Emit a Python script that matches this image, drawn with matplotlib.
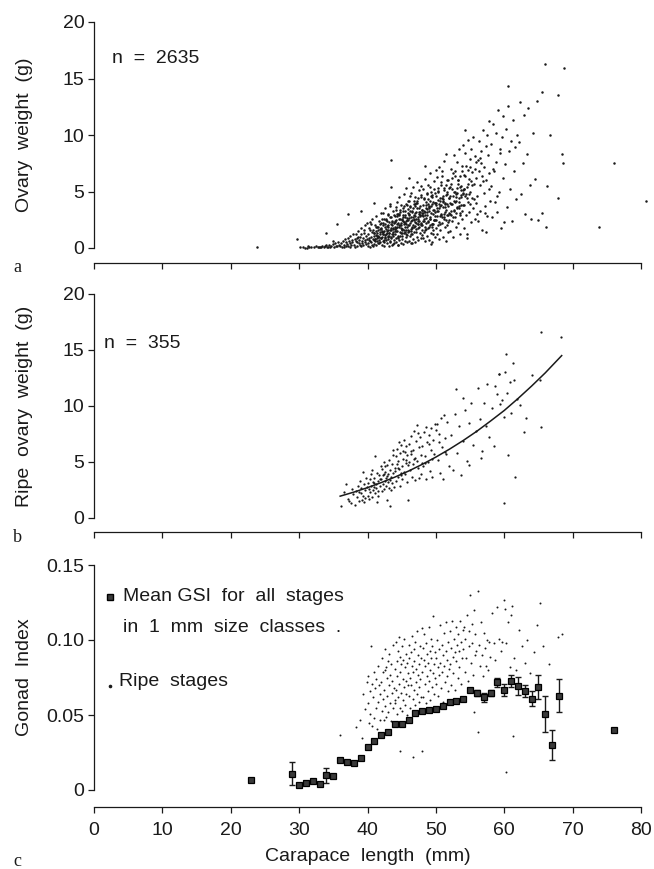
import matplotlib
matplotlib.use("Agg")
import matplotlib.pyplot as plt

plt.rcParams['font.family'] = ['Liberation Sans', 'DejaVu Sans']

# ---------------- Panel a: ovary weight vs carapace length (all stages) ----------------
ovary_cl = [
    30.1,30.6,30.9,31.3,31.5,31.8,32.2,32.4,32.7,32.9,33.0,31.1,
    33.2,33.4,33.6,33.8,34.0,34.2,34.4,34.5,34.7,34.9,35.1,35.2,35.4,35.6,35.7,35.9,34.1,35.0,
    36.0,36.1,36.3,36.4,36.5,36.7,36.8,36.9,37.0,37.1,37.2,37.3,37.4,37.5,37.6,37.7,37.8,37.9,36.6,37.5,
    38.0,38.1,38.2,38.3,38.4,38.5,38.6,38.7,38.8,38.9,39.0,39.1,39.2,39.3,39.4,39.5,39.6,39.7,39.8,39.9,
    38.25,38.55,38.85,39.15,39.45,39.75,38.45,39.05,39.65,39.95,
    40.0,40.05,40.1,40.2,40.25,40.3,40.4,40.45,40.5,40.6,40.65,40.7,40.8,40.85,40.9,41.0,41.05,41.1,41.2,41.25,
    41.3,41.4,41.45,41.5,41.6,41.65,41.7,41.8,41.85,41.9,40.15,40.35,40.55,40.75,40.95,41.15,41.35,41.55,41.75,41.95,
    40.42,40.88,41.22,41.58,41.92,
    42.0,42.03,42.1,42.15,42.2,42.25,42.3,42.38,42.42,42.5,42.55,42.6,42.68,42.72,42.8,42.85,42.9,42.97,43.0,43.05,
    43.1,43.17,43.2,43.28,43.32,43.4,43.45,43.5,43.57,43.62,43.7,43.75,43.8,43.88,43.92,43.98,42.07,42.33,42.47,42.63,
    42.77,42.93,43.07,43.23,43.37,43.53,43.67,43.83,43.95,42.12,42.58,42.82,43.13,43.42,43.78,42.45,43.02,43.6,42.22,43.3,
    44.0,44.04,44.1,44.13,44.18,44.22,44.27,44.3,44.36,44.4,44.45,44.5,44.53,44.58,44.62,44.68,44.7,44.75,44.8,44.84,
    44.9,44.93,44.98,45.0,45.05,45.1,45.13,45.18,45.22,45.28,45.3,45.35,45.4,45.44,45.5,45.53,45.58,45.62,45.67,45.7,
    45.75,45.8,45.84,45.9,45.94,45.98,44.07,44.33,44.55,44.78,44.95,45.15,45.38,45.6,45.82,44.24,44.48,44.72,45.08,45.26,
    45.48,45.72,45.92,44.15,44.65,45.02,45.42,45.88,44.42,45.56,
    46.0,46.05,46.08,46.13,46.17,46.22,46.28,46.3,46.35,46.4,46.44,46.5,46.53,46.57,46.63,46.68,46.7,46.76,46.8,46.85,
    46.88,46.94,46.98,47.02,47.05,47.1,47.15,47.2,47.24,47.28,47.33,47.38,47.42,47.47,47.5,47.55,47.6,47.64,47.68,47.73,
    47.78,47.82,47.86,47.9,47.94,47.98,46.03,46.25,46.47,46.73,46.92,47.12,47.36,47.58,47.8,46.15,46.38,46.6,46.83,47.0,
    47.22,47.45,47.66,47.92,46.1,46.55,46.96,47.4,47.84,46.42,
    48.0,48.05,48.1,48.14,48.2,48.25,48.3,48.34,48.4,48.44,48.5,48.55,48.58,48.63,48.7,48.74,48.8,48.84,48.9,48.95,
    49.0,49.04,49.1,49.15,49.2,49.24,49.3,49.35,49.4,49.45,49.5,49.54,49.6,49.66,49.7,49.75,49.8,49.85,49.9,49.95,
    48.08,48.32,48.52,48.78,48.98,49.18,49.42,49.62,49.88,48.18,48.45,48.68,48.92,49.12,49.38,49.58,49.82,48.27,48.6,49.07,
    49.5,49.92,48.38,49.28,49.72,
    50.0,50.06,50.1,50.17,50.22,50.28,50.33,50.4,50.45,50.5,50.56,50.62,50.67,50.72,50.78,50.84,50.9,50.95,51.0,51.06,
    51.12,51.17,51.22,51.28,51.33,51.4,51.45,51.5,51.56,51.62,51.67,51.73,51.78,51.84,51.9,51.95,50.14,50.37,50.58,50.81,
    51.03,51.25,51.48,51.7,51.92,50.25,50.52,50.75,51.09,51.36,51.6,51.87,50.03,50.88,51.53,
    52.0,52.07,52.13,52.2,52.26,52.33,52.4,52.46,52.52,52.6,52.66,52.73,52.8,52.86,52.93,53.0,53.07,53.13,53.2,53.27,
    53.33,53.4,53.46,53.53,53.6,53.66,53.73,53.8,53.87,53.93,52.1,52.37,52.63,52.9,53.17,53.43,53.7,53.97,52.23,52.55,
    52.83,53.1,53.37,53.63,53.9,
    54.0,54.08,54.15,54.22,54.3,54.37,54.45,54.52,54.6,54.67,54.75,54.82,54.9,54.97,55.05,55.12,55.2,55.27,55.35,55.42,
    55.5,55.57,55.65,55.72,55.8,55.87,55.95,54.12,54.4,54.7,54.95,55.25,55.55,55.82,54.27,54.58,55.1,55.68,
    56.0,56.1,56.2,56.3,56.4,56.5,56.6,56.7,56.8,56.9,57.0,57.1,57.2,57.3,57.4,57.5,57.6,57.7,57.8,57.9,
    56.25,56.55,56.85,57.15,57.45,57.75,56.45,57.35,
    58.0,58.1,58.25,58.35,58.5,58.6,58.75,58.85,59.0,59.1,59.25,59.35,59.5,59.6,59.75,59.85,58.4,58.95,59.45,59.95,
    60.1,60.25,60.4,60.55,60.7,60.85,61.0,61.15,61.3,61.45,61.6,61.75,61.9,60.5,
    62.1,62.3,62.5,62.7,62.9,63.1,63.3,63.5,63.7,63.9,
    64.2,64.5,64.8,65.0,65.5,65.9,65.5,66.1,66.7,66.3,67.9,67.9,68.4,68.6,68.8,76.0,80.8,73.8,
    23.8,29.7,33.9,35.5,37.1,39.1,40.9,43.5,43.5,
    # dense core
    41.02,41.13,41.21,41.34,41.46,41.52,41.63,41.77,41.86,41.97,
    42.04,42.16,42.27,42.31,42.43,42.56,42.64,42.73,42.88,42.95,
    43.03,43.14,43.22,43.36,43.41,43.55,43.66,43.74,43.83,43.96,
    44.02,44.12,44.26,44.35,44.47,44.54,44.61,44.76,44.83,44.97,
    45.04,45.11,45.24,45.33,45.46,45.52,45.64,45.71,45.87,45.93,
    46.02,46.14,46.23,46.36,46.43,46.58,46.62,46.77,46.86,46.91,
    47.03,47.16,47.23,47.34,47.44,47.56,47.63,47.76,47.83,47.97,
    48.03,48.12,48.22,48.36,48.47,48.53,48.66,48.72,48.87,48.94,
    49.02,49.13,49.26,49.33,49.41,49.56,49.64,49.77,49.84,49.96,
    50.04,50.12,50.24,50.35,50.47,50.54,50.66,50.74,50.86,50.97,
    51.02,51.14,51.23,51.37,51.43,51.55,51.65,51.76,51.82,51.94,
    52.05,52.15,52.28,52.35,52.47,52.58,52.68,52.78,52.88,52.96,
    53.04,53.16,53.24,53.34,53.48,53.58,53.68,53.76,53.85,53.95,
    54.05,54.18,54.33,54.48,54.63,54.78,54.92,
]
ovary_wt = [
    0.05,0.1,0.02,0.15,0.05,0.1,0.08,0.2,0.05,0.12,0.1,0.0,
    0.1,0.2,0.05,0.15,0.3,0.1,0.25,0.05,0.2,0.35,0.1,0.4,0.2,0.15,0.5,0.3,0.12,0.6,
    0.2,0.4,0.1,0.6,0.3,0.8,0.15,0.5,0.35,0.9,0.2,0.6,1.1,0.4,0.25,0.7,0.5,1.2,0.05,0.1,
    0.3,0.8,0.1,1.2,0.5,0.2,1.5,0.7,0.4,1.0,0.15,1.8,0.6,0.9,0.3,1.3,2.0,0.5,1.1,0.8,
    0.6,1.0,0.25,0.45,1.6,0.35,0.9,1.2,0.7,2.2,
    0.4,1.2,0.2,1.8,0.7,0.1,2.3,1.0,0.5,1.4,0.3,2.6,0.8,1.6,0.35,1.1,2.0,0.6,1.5,0.25,
    2.8,0.9,1.3,0.45,1.9,0.7,2.4,1.2,0.55,1.7,0.9,0.6,2.1,0.2,1.35,0.8,1.85,1.05,0.4,2.2,
    1.55,0.75,1.15,0.95,3.1,
    0.9,1.8,0.3,2.6,1.2,0.6,3.1,1.5,0.2,2.1,1.0,3.5,0.7,1.7,2.4,0.4,1.3,2.9,0.8,1.9,
    0.15,2.3,1.1,3.7,0.5,1.6,2.7,0.95,2.0,1.25,0.35,3.3,1.45,2.2,0.75,1.85,1.4,2.0,0.55,1.15,
    2.5,1.6,3.0,0.65,1.75,2.35,1.05,0.45,2.8,1.5,0.85,1.95,1.35,2.15,1.65,2.55,1.0,0.25,1.2,3.9,
    1.2,2.4,0.5,3.4,1.8,0.9,2.8,4.1,1.5,0.3,2.2,3.0,1.0,1.9,4.5,0.7,2.6,1.4,3.2,0.45,
    2.0,3.8,1.1,2.5,0.8,1.7,3.5,2.9,0.35,1.3,2.3,4.8,1.6,0.6,2.7,3.3,1.25,2.1,0.95,3.9,
    1.85,2.45,0.55,1.45,3.1,2.0,1.65,2.15,2.95,1.05,1.75,2.35,3.7,1.55,2.65,3.6,0.85,2.05,1.35,2.75,
    1.9,1.15,4.2,2.5,3.05,1.6,2.25,3.45,0.25,5.3,
    1.5,3.0,0.6,4.2,2.2,1.1,3.6,2.7,0.4,4.9,1.8,2.5,3.3,1.2,5.4,2.0,0.8,3.9,2.9,1.4,
    4.5,2.3,0.55,3.1,1.7,4.0,2.6,5.8,1.0,3.5,2.1,0.7,4.4,3.0,1.9,2.4,5.1,1.3,3.7,2.8,
    0.9,4.7,2.2,3.4,1.6,2.9,2.65,3.25,1.85,2.45,3.85,1.45,2.75,3.15,2.05,4.6,1.25,3.55,2.55,1.95,
    4.15,2.35,3.2,1.15,6.2,0.45,3.75,2.15,5.5,1.65,
    2.0,3.8,0.9,5.2,2.6,1.4,4.4,3.2,0.6,6.1,2.2,3.5,1.7,4.8,2.9,1.1,5.6,3.9,2.4,0.75,
    3.3,1.9,6.6,4.2,2.7,1.3,3.7,5.0,2.1,0.5,4.5,3.0,1.6,5.9,2.5,3.4,1.0,4.0,2.8,6.9,
    3.1,2.35,4.1,1.8,3.6,2.55,4.7,2.15,3.15,2.85,1.55,3.45,4.35,2.05,3.85,1.25,4.9,3.3,2.65,5.4,
    1.85,3.95,7.3,0.35,2.45,
    2.5,4.6,1.2,6.3,3.3,2.0,5.3,0.8,3.9,7.2,2.8,4.2,1.6,5.8,3.0,2.2,6.8,4.4,1.0,3.6,
    5.1,2.6,7.7,1.9,4.0,3.2,5.6,0.65,2.9,4.8,6.0,2.3,3.7,1.4,5.3,3.1,3.5,4.25,2.15,3.8,
    4.6,2.75,3.35,4.95,2.45,5.05,3.55,2.95,4.15,3.85,2.05,4.45,1.75,6.4,8.3,
    3.0,5.4,1.5,7.0,3.9,2.4,6.2,4.6,1.0,8.2,3.4,5.0,2.7,6.8,4.2,1.9,7.6,3.6,5.7,2.2,
    8.8,4.4,3.1,6.4,1.2,5.1,3.8,7.3,2.6,4.8,4.0,5.2,3.3,4.5,6.0,3.7,5.5,4.9,2.9,6.6,
    4.1,5.3,3.5,4.7,9.1,
    3.8,6.5,1.8,8.4,4.6,2.9,7.3,5.4,1.2,9.6,4.1,6.1,3.2,7.9,5.0,2.3,8.8,4.4,6.7,3.5,
    9.8,5.7,2.6,7.0,4.0,6.2,3.0,5.2,4.8,6.9,3.9,5.6,4.3,7.6,10.4,0.9,5.9,8.1,
    4.6,7.8,2.4,9.5,5.6,3.3,8.6,6.4,1.6,10.4,4.9,7.2,3.7,9.0,6.0,2.8,8.2,5.2,11.2,4.2,
    6.8,7.5,5.9,3.1,10.0,6.6,8.0,1.4,
    5.5,9.2,2.7,11.0,6.8,4.1,10.2,7.6,3.2,12.2,5.0,8.4,1.8,9.8,6.2,11.7,7.0,4.6,8.8,2.3,
    7.4,10.5,3.6,12.6,8.6,5.2,9.5,2.4,11.3,6.8,8.9,4.3,10.0,14.3,
    9.4,12.9,4.8,7.5,11.8,3.0,8.3,12.4,5.6,2.6,
    10.2,6.1,13.0,2.5,13.8,16.3,3.1,1.9,10.0,5.5,13.5,4.4,8.3,7.5,15.9,7.5,4.2,1.9,
    0.1,0.8,1.3,2.1,3.0,3.3,4.0,7.8,5.4,
    # dense core
    1.3,0.8,1.9,1.1,0.6,1.6,1.0,2.1,1.4,0.9,
    1.7,1.0,2.2,1.4,0.7,1.9,1.2,2.6,1.5,1.1,
    2.0,1.3,2.7,1.6,0.9,2.3,1.8,1.2,2.9,1.5,
    2.3,1.5,3.0,1.9,1.1,2.6,2.0,3.4,1.3,2.2,
    2.6,1.7,3.3,2.1,1.4,2.9,2.4,3.8,1.6,2.5,
    2.9,2.0,3.7,2.4,1.5,3.2,2.7,4.2,1.9,2.8,
    3.2,2.2,4.0,2.6,1.8,3.5,2.9,4.5,2.1,3.1,
    3.4,2.4,4.3,2.9,1.9,3.8,3.2,4.9,2.3,3.5,
    3.7,2.6,4.6,3.1,2.1,4.1,3.4,5.2,2.5,3.8,
    4.0,2.8,5.0,3.3,2.3,4.4,3.7,5.6,2.7,4.1,
    4.3,3.0,5.3,3.6,2.5,4.7,3.9,6.0,2.9,4.4,
    4.6,3.3,5.7,3.9,2.7,5.0,4.2,6.4,3.1,4.8,
    4.9,3.5,6.0,4.1,2.9,5.4,4.5,6.8,3.3,5.1,
    5.2,3.8,6.4,4.4,5.7,4.8,7.2,
]

# ---------------- Panel b: ripe ovary weight ----------------
ripe_cl = [
    36.1,36.9,37.3,37.6,37.9,37.2,36.6,37.8,
    38.1,38.3,38.5,38.6,38.8,38.9,39.0,39.1,39.2,39.3,39.4,39.5,39.6,39.7,39.8,39.9,38.7,39.55,
    40.0,40.1,40.2,40.25,40.35,40.4,40.5,40.6,40.65,40.75,40.8,40.9,41.0,41.05,41.15,41.2,41.3,41.4,41.45,41.55,
    41.6,41.7,41.8,41.85,41.95,40.45,40.95,41.5,
    42.0,42.05,42.15,42.2,42.3,42.35,42.45,42.5,42.6,42.65,42.75,42.8,42.9,42.95,43.05,43.1,43.2,43.25,43.35,43.4,
    43.5,43.55,43.65,43.7,43.8,43.85,43.95,42.4,42.85,43.3,43.75,42.55,
    44.0,44.1,44.15,44.25,44.3,44.4,44.5,44.55,44.65,44.7,44.8,44.9,44.95,45.05,45.1,45.2,45.3,45.35,45.45,45.5,
    45.6,45.7,45.75,45.85,45.9,44.45,44.85,45.25,45.65,45.95,
    46.0,46.1,46.2,46.3,46.4,46.5,46.6,46.7,46.8,46.9,47.0,47.1,47.2,47.3,47.4,47.5,47.6,47.7,47.8,47.9,
    46.35,46.85,47.35,47.85,
    48.0,48.1,48.25,48.35,48.5,48.6,48.75,48.85,49.0,49.1,49.25,49.35,49.5,49.6,49.75,49.85,48.45,48.95,49.45,49.95,
    50.1,50.25,50.4,50.6,50.75,50.9,51.05,51.2,51.4,51.55,51.7,51.85,50.5,51.3,
    52.2,52.5,52.8,53.1,53.4,53.7,54.0,54.3,54.6,54.9,55.2,55.5,55.8,53.0,53.9,54.8,
    56.1,56.4,56.8,57.1,57.5,57.8,58.2,58.5,58.9,59.2,59.6,59.9,56.6,57.3,58.7,59.4,
    60.0,60.1,60.2,59.2,61.3,61.4,60.4,60.8,61.0,61.5,61.8,62.9,63.2,64.0,65.3,65.4,65.4,68.3,60.6,62.3,
]
ripe_wt = [
    1.1,3.0,1.5,1.3,2.1,1.7,2.3,2.6,
    1.2,2.4,1.9,2.9,1.5,3.3,2.2,2.7,1.6,4.1,2.0,3.0,2.5,1.8,3.6,2.8,2.3,1.4,
    2.0,3.1,2.6,1.7,3.5,2.3,2.9,4.3,1.9,3.2,2.5,2.8,3.6,2.2,5.5,3.0,2.7,4.0,1.4,3.3,
    2.4,3.8,2.9,3.5,4.6,3.9,3.1,2.0,
    3.5,2.4,4.4,3.0,3.8,2.6,5.0,3.3,4.1,2.9,3.6,1.6,4.7,3.2,3.9,2.7,5.2,3.4,4.3,2.5,
    3.7,4.8,3.1,5.6,4.0,2.8,4.5,3.95,3.75,1.1,6.1,4.6,
    4.2,5.5,3.3,4.8,6.2,3.7,5.1,4.4,6.8,2.9,5.8,4.0,6.5,4.6,3.5,5.3,7.0,4.1,5.9,3.9,
    4.9,6.4,3.2,5.6,4.7,4.5,3.8,6.0,5.2,1.6,
    5.0,6.6,4.3,7.3,5.7,3.7,6.1,4.8,7.8,5.4,3.4,6.9,5.1,8.3,4.5,6.3,3.6,7.2,5.6,4.9,
    6.0,5.3,7.6,3.9,
    6.4,4.6,7.7,5.5,8.1,3.5,6.8,5.0,7.4,4.2,8.0,6.1,3.7,7.0,5.7,8.4,4.9,6.6,5.3,7.9,
    8.4,5.2,7.5,4.0,8.9,6.3,3.5,9.2,7.1,5.7,8.6,4.6,6.8,5.9,
    7.4,4.3,9.3,5.8,8.2,3.8,6.9,9.6,5.1,8.5,10.3,6.5,7.8,11.5,10.7,4.7,
    11.6,8.8,6.0,10.3,12.0,7.2,9.8,6.4,11.1,12.9,10.5,9.0,5.4,8.2,11.8,10.2,
    1.3,13.0,14.6,12.9,13.8,12.3,11.2,12.1,9.4,3.7,10.6,7.7,8.9,12.8,12.3,8.1,16.6,16.2,5.6,10.1,
]

# fitted curve
fit_cl = [36, 38, 40, 42, 44, 46, 48, 50, 52, 54, 56, 58, 60, 62, 64, 66, 68.4]
fit_wt = [1.95, 2.31, 2.71, 3.16, 3.65, 4.19, 4.79, 5.44, 6.15, 6.92, 7.75, 8.66, 9.6, 10.66, 11.78, 12.96, 14.5]

# ---------------- Panel c: gonad index ----------------
mean_cl = [23, 29, 30, 31, 32, 33, 34, 35, 36, 37, 38, 39, 40, 41, 42, 43, 44, 45, 46, 47, 48, 49, 50,
           51, 52, 53, 54, 55, 56, 57, 58, 59, 60, 61, 62, 63, 64, 65, 66, 67, 68, 76]
mean_gsi = [0.007, 0.011, 0.0035, 0.005, 0.006, 0.004, 0.010, 0.0094, 0.020, 0.0185, 0.018, 0.0216,
            0.029, 0.0327, 0.0367, 0.039, 0.044, 0.044, 0.0468, 0.0512, 0.053, 0.0535, 0.054,
            0.0563, 0.0586, 0.0592, 0.061, 0.0668, 0.0646, 0.0617, 0.0646, 0.0717, 0.0668, 0.0724,
            0.0695, 0.0661, 0.0608, 0.0684, 0.0508, 0.030, 0.0628, 0.040]
mean_err = [0, 0.0075, 0, 0, 0, 0, 0.005, 0, 0, 0, 0, 0,
            0, 0, 0, 0, 0, 0, 0, 0, 0, 0, 0,
            0, 0, 0, 0, 0, 0.002, 0.003, 0.002, 0.003, 0.004, 0.004,
            0.006, 0.004, 0.005, 0.008, 0.012, 0.010, 0.011, 0]

gsi_ripe_cl = [
    38.3,38.9,39.4,39.7,39.2,39.9,
    40.0,40.1,40.2,40.3,40.4,40.5,40.6,40.7,40.8,40.9,41.0,41.1,41.2,41.3,41.4,41.5,41.6,41.7,41.8,41.9,
    42.0,42.07,42.15,42.22,42.3,42.37,42.45,42.52,42.6,42.67,42.75,42.82,42.9,42.97,43.05,43.12,43.2,43.27,43.35,43.42,
    43.5,43.57,43.65,43.72,43.8,43.87,43.95,42.5,
    44.0,44.06,44.12,44.19,44.25,44.31,44.37,44.44,44.5,44.56,44.62,44.69,44.75,44.81,44.87,44.94,45.0,45.06,45.12,45.19,
    45.25,45.31,45.37,45.44,45.5,45.56,45.62,45.69,45.75,45.81,45.87,45.94,
    46.0,46.07,46.13,46.2,46.27,46.33,46.4,46.47,46.53,46.6,46.67,46.73,46.8,46.87,46.93,47.0,47.07,47.13,47.2,47.27,
    47.33,47.4,47.47,47.53,47.6,47.67,47.73,47.8,47.87,47.93,
    48.0,48.07,48.14,48.21,48.29,48.36,48.43,48.5,48.57,48.64,48.71,48.79,48.86,48.93,49.0,49.07,49.14,49.21,49.29,49.36,
    49.43,49.5,49.57,49.64,49.71,49.79,49.86,49.93,
    50.0,50.08,50.17,50.25,50.33,50.42,50.5,50.58,50.67,50.75,50.83,50.92,51.0,51.08,51.17,51.25,51.33,51.42,51.5,51.58,
    51.67,51.75,51.83,51.92,
    52.0,52.09,52.18,52.27,52.36,52.45,52.55,52.64,52.73,52.82,52.91,53.0,53.09,53.18,53.27,53.36,53.45,53.55,53.64,53.73,
    53.82,53.91,
    54.0,54.11,54.22,54.33,54.44,54.56,54.67,54.78,54.89,55.0,55.11,55.22,55.33,55.44,55.56,55.67,55.78,55.89,
    56.1,56.25,56.4,56.55,56.7,56.85,57.0,57.15,57.3,57.45,57.6,57.75,57.9,56.1,
    58.2,58.5,58.7,59.0,59.2,59.5,59.7,59.9,60.1,60.3,60.5,60.8,61.0,61.2,61.4,61.7,60.2,61.3,
    62.2,62.6,63.0,63.4,63.8,64.3,64.8,65.2,65.6,66.5,67.8,68.4,
    36.0,44.8,48.0,46.6,55.6,
]
gsi_ripe = [
    0.042,0.047,0.064,0.054,0.035,0.072,
    0.058,0.076,0.045,0.066,0.051,0.096,0.071,0.043,0.062,0.079,0.048,0.068,0.055,0.074,0.041,0.083,0.059,0.070,0.047,0.064,
    0.072,0.053,0.088,0.061,0.079,0.047,0.067,0.094,0.056,0.082,0.049,0.075,0.063,0.086,0.052,0.070,0.091,0.058,0.077,0.046,
    0.084,0.065,0.073,0.055,0.097,0.068,0.060,0.080,
    0.081,0.058,0.099,0.067,0.086,0.051,0.076,0.093,0.062,0.102,0.071,0.055,0.089,0.079,0.065,0.084,0.053,0.096,0.074,0.060,
    0.087,0.069,0.101,0.057,0.082,0.064,0.091,0.073,0.050,0.085,0.070,0.078,
    0.088,0.063,0.097,0.075,0.055,0.092,0.070,0.083,0.103,0.061,0.079,0.094,0.067,0.086,0.057,0.099,0.072,0.081,0.064,0.106,
    0.077,0.090,0.059,0.084,0.069,0.096,0.074,0.062,0.088,0.108,
    0.079,0.095,0.062,0.087,0.104,0.071,0.083,0.058,0.098,0.076,0.091,0.066,0.085,0.109,0.073,0.093,0.080,0.060,0.101,0.088,
    0.069,0.096,0.078,0.116,0.084,0.064,0.092,0.075,
    0.088,0.071,0.100,0.082,0.063,0.094,0.077,0.110,0.085,0.068,0.097,0.079,0.090,0.059,0.105,0.083,0.072,0.093,0.112,0.076,
    0.087,0.066,0.099,0.081,
    0.106,0.084,0.095,0.070,0.113,0.089,0.078,0.101,0.092,0.067,0.109,0.086,0.097,0.075,0.104,0.082,0.093,0.113,0.071,0.099,
    0.088,0.107,
    0.094,0.109,0.079,0.101,0.088,0.117,0.073,0.096,0.106,0.130,0.085,0.111,0.098,0.077,0.120,0.090,0.104,0.093,
    0.133,0.097,0.083,0.112,0.090,0.076,0.105,0.095,0.083,0.100,0.080,0.099,0.089,0.039,
    0.118,0.098,0.087,0.122,0.101,0.093,0.099,0.127,0.121,0.098,0.112,0.082,0.117,0.123,0.088,0.080,0.012,0.036,
    0.107,0.096,0.085,0.100,0.078,0.092,0.110,0.125,0.096,0.084,0.102,0.104,
    0.037,0.026,0.026,0.022,0.052,
]

x_ticks = [0, 10, 20, 30, 40, 50, 60, 70, 80]

# ---------------- Figure ----------------
FW, FH = 654, 869
fig = plt.figure(figsize=(FW / 100, FH / 100), dpi=100)
ink = '#1a1a1a'
L = 94 / FW
W = 547 / FW

def make_ax(y_top_px, y_zero_px, x_axis_px, ylim, yticks, yticklabels, ylabel, show_x_labels):
    ax = fig.add_axes([L, 1 - y_zero_px / FH, W, (y_zero_px - y_top_px) / FH])
    ax.set_xlim(0, 80)
    ax.set_ylim(*ylim)
    for s in ('top', 'right'):
        ax.spines[s].set_visible(False)
    ax.spines['bottom'].set_position(('outward', (x_axis_px - y_zero_px) * 0.72))
    ax.spines['left'].set_bounds(ylim[0], ylim[1])
    for s in ('bottom', 'left'):
        ax.spines[s].set_linewidth(0.9)
        ax.spines[s].set_color(ink)
    ax.set_xticks(x_ticks)
    if not show_x_labels:
        ax.set_xticklabels([])
    ax.set_yticks(yticks)
    ax.set_yticklabels(yticklabels)
    ax.tick_params(direction='out', length=4.5, width=0.9, color=ink, labelcolor=ink,
                   labelsize=14, pad=2.5)
    ax.tick_params(axis='x', pad=6)
    ax.set_ylabel(ylabel, fontsize=14, color=ink)
    ax.yaxis.set_label_coords(-0.112, 0.5)
    return ax

axa = make_ax(22, 248, 263, (0, 20), [0, 5, 10, 15, 20], ['0', '5', '10', '15', '20'],
              'Ovary  weight  (g)', False)
axb = make_ax(294, 518, 532, (0, 20), [0, 5, 10, 15, 20], ['0', '5', '10', '15', '20'],
              'Ripe  ovary  weight  (g)', False)
axc = make_ax(565, 790, 807, (0, 0.15), [0, 0.05, 0.10, 0.15], ['0', '0.05', '0.10', '0.15'],
              'Gonad  Index', True)

# panel a
axa.scatter(ovary_cl, ovary_wt, s=3.2, c=ink, linewidths=0, clip_on=False)
axa.text(0.033, 0.84, 'n  =  2635', transform=axa.transAxes, fontsize=14, color=ink,
         va='center', ha='left')

# panel b
axb.scatter(ripe_cl, ripe_wt, s=2.6, c=ink, linewidths=0, clip_on=False)
axb.plot(fit_cl, fit_wt, color=ink, lw=1.1)
axb.text(0.018, 0.78, 'n  =  355', transform=axb.transAxes, fontsize=14, color=ink,
         va='center', ha='left')

# panel c
axc.scatter(gsi_ripe_cl, gsi_ripe, s=2.0, c=ink, linewidths=0, clip_on=False)
eb_x = [x for x, e in zip(mean_cl, mean_err) if e > 0]
eb_y = [y for y, e in zip(mean_gsi, mean_err) if e > 0]
eb_e = [e for e in mean_err if e > 0]
axc.errorbar(eb_x, eb_y, yerr=eb_e, fmt='none', ecolor=ink, elinewidth=1.0, capsize=2.4,
             capthick=1.0, zorder=2)
axc.plot(mean_cl, mean_gsi, linestyle='none', marker='s', markersize=4.4,
         markerfacecolor='#3a3a3a', markeredgecolor='#000000', markeredgewidth=0.9, zorder=3)
axc.set_xlabel('Carapace  length  (mm)', fontsize=14, color=ink, labelpad=7)

# legend-like annotations
axc.plot([0.029], [0.858], transform=axc.transAxes, marker='s', markersize=3.8,
         markerfacecolor='#3a3a3a', markeredgecolor='#000000', linestyle='none', clip_on=False)
axc.text(0.053, 0.858, 'Mean GSI  for  all  stages', transform=axc.transAxes, fontsize=14,
         color=ink, va='center', ha='left')
axc.text(0.053, 0.722, 'in  1  mm  size  classes  .', transform=axc.transAxes, fontsize=14,
         color=ink, va='center', ha='left')
axc.plot([0.029], [0.462], transform=axc.transAxes, marker='o', markersize=1.6,
         color=ink, linestyle='none', clip_on=False)
axc.text(0.045, 0.48, 'Ripe  stages', transform=axc.transAxes, fontsize=14,
         color=ink, va='center', ha='left')

# panel letters
for letter, ypx in (('a', 267), ('b', 537), ('c', 862)):
    fig.text(17 / FW, 1 - ypx / FH, letter, family=['Liberation Serif', 'DejaVu Serif'],
             fontsize=13, color=ink, ha='center', va='center')

fig.savefig('out.png', dpi=100)
